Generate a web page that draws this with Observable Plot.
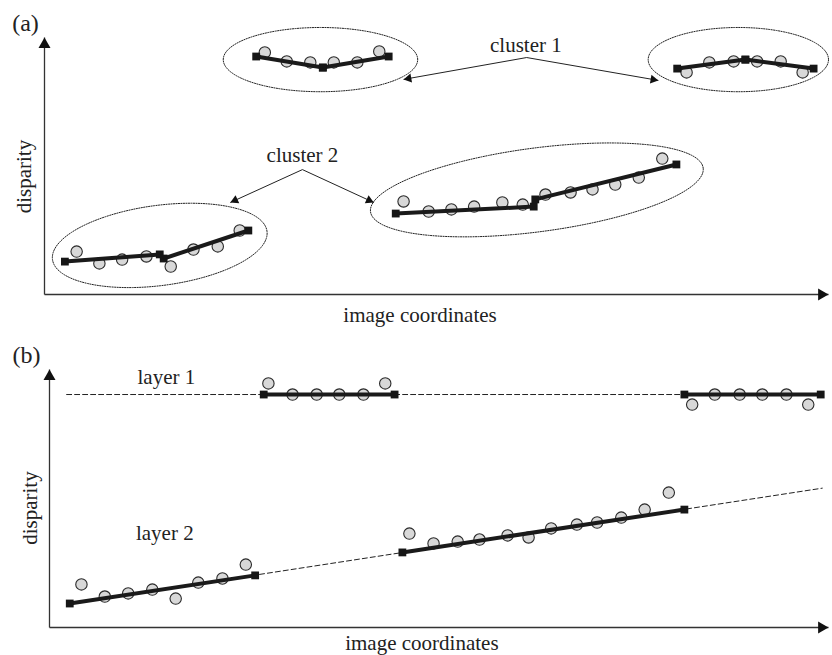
<!DOCTYPE html>
<html><head><meta charset="utf-8">
<script src="https://cdn.jsdelivr.net/npm/d3@7"></script>
<script src="https://cdn.jsdelivr.net/npm/@observablehq/plot@0.6"></script>
<style>
body{margin:0;background:#fff;}
#wrap{width:832px;}
svg{display:block;}
</style>
</head><body><div id="wrap"></div>
<script>
// ---------- Panel (a) data (x: image coordinate 0–100, y: disparity 0–10) ----------
const aC1LeftPts  = [[28.1,9.42],[30.9,9.07],[33.9,9.03],[36.9,9.03],[39.9,9.03],[42.7,9.46]];
const aC1LeftFit  = [[[27.0,9.26],[35.5,8.83]],[[35.5,8.83],[43.9,9.26]]];
const aC1RightPts = [[81.9,8.64],[84.8,9.03],[87.9,9.07],[90.9,9.07],[93.9,9.07],[96.7,8.64]];
const aC1RightFit = [[[80.7,8.79],[89.4,9.14]],[[89.4,9.14],[98.1,8.79]]];
const aC2LeftPts  = [[4.1,1.67],[7.0,1.21],[9.9,1.36],[13.0,1.48],[16.1,1.09],[19.0,1.75],[22.1,1.87],[24.9,2.49]];
const aC2LeftFit  = [[[2.6,1.28],[14.7,1.56]],[[15.2,1.40],[26.0,2.49]]];
const aC2RightPts = [[45.8,3.62],[49.0,3.23],[51.9,3.31],[54.8,3.42],[58.4,3.58],[61.0,3.50],[63.9,3.89],[67.1,3.97],[69.9,4.09],[72.8,4.28],[75.8,4.55],[78.8,5.29]];
const aC2RightFit = [[[44.8,3.15],[62.4,3.42]],[[62.6,3.70],[80.6,5.06]]];
// cluster outlines: centre, semi-axes (in x / y units), tilt in degrees
const aEllipses = [
  {cx:35.2, cy:9.14, a:12.4, b:1.25, angle:0},
  {cx:88.5, cy:9.14, a:11.5, b:1.25, angle:0},
  {cx:14.7, cy:1.91, a:13.8, b:1.56, angle:7.5},
  {cx:62.8, cy:4.07, a:21.4, b:1.63, angle:7.5}
];
const aArrows = [
  {from:[61.5,9.22], to:[45.8,8.37]},
  {from:[61.5,9.22], to:[78.3,8.33]},
  {from:[32.9,4.86], to:[23.7,3.58]},
  {from:[32.9,4.86], to:[42.0,3.58]}
];
const aLabels = [
  {x:61.4, y:9.69, text:"cluster 1"},
  {x:32.9, y:5.41, text:"cluster 2"}
];

// ---------- Panel (b) data ----------
const bLayer1Pts = [[28.1,9.46],[31.2,9.03],[34.3,9.03],[37.2,9.03],[40.3,9.03],[43.1,9.46],
                    [82.5,8.64],[85.4,9.03],[88.6,9.03],[91.5,9.03],[94.6,9.03],[97.4,8.64]];
const bLayer1Fit = [[[27.5,9.03],[44.3,9.03]],[[81.5,9.03],[99.0,9.03]]];
const bLayer1Model = [[2.2,9.03],[99.0,9.03]];
const bLayer2Pts = [[4.1,1.67],[7.1,1.20],[10.1,1.32],[13.2,1.47],[16.2,1.12],[19.1,1.74],[22.2,1.90],[25.2,2.44],
                    [46.2,3.64],[49.3,3.26],[52.4,3.33],[55.2,3.41],[58.8,3.57],[61.5,3.49],[64.4,3.84],[67.7,3.99],[70.3,4.07],[73.4,4.26],[76.4,4.57],[79.5,5.23]];
const bLayer2Fit = [[[2.6,0.93],[26.4,2.02]],[[45.3,2.91],[81.5,4.57]]];
const bLayer2Model = [[2.6,0.93],[99.2,5.40]];
const bLabels = [
  {x:15.0, y:9.69, text:"layer 1"},
  {x:14.8, y:3.64, text:"layer 2"}
];

const xLabel = "image coordinates";
const yLabel = "disparity";

// ---------- helpers ----------
const FONT = "'Liberation Serif', 'Times New Roman', serif";
const W = 832;

function ellipsePts(e, kx, ky) {
  const th = e.angle * Math.PI / 180, a = e.a * kx, b = e.b * ky;
  return d3.range(144).map(i => {
    const t = 2 * Math.PI * i / 144;
    const px = a * Math.cos(t) * Math.cos(th) - b * Math.sin(t) * Math.sin(th);
    const py = a * Math.cos(t) * Math.sin(th) + b * Math.sin(t) * Math.cos(th);
    return {x: e.cx + px / kx, y: e.cy + py / ky};
  });
}
function head(from, to, kx, ky, s) {
  const dxp = (to[0] - from[0]) * kx, dyp = -(to[1] - from[1]) * ky;
  const L = Math.hypot(dxp, dyp), ux = dxp / L, uy = dyp / L;
  const back = s / Math.sqrt(3);
  return {x: to[0] - back * ux / kx, y: to[1] + back * uy / ky, rotate: Math.atan2(ux, -uy) * 180 / Math.PI};
}
const triR = s => Math.sqrt(Math.sqrt(3) / 4 * s * s / Math.PI);

function segMarks(segs, w) {
  const ends = segs.flat();
  return [
    Plot.link(segs, {x1: d => d[0][0], y1: d => d[0][1], x2: d => d[1][0], y2: d => d[1][1], stroke: "#1a1a1a", strokeWidth: w}),
    Plot.dot(ends, {x: d => d[0], y: d => d[1], symbol: "square", r: 4.4, fill: "#161616", stroke: "none"})
  ];
}
function circleMark(pts) {
  return Plot.dot(pts, {x: d => d[0], y: d => d[1], r: 5.7, fill: "#d8d8d8", stroke: "#2a2a2a", strokeWidth: 1.1});
}
function axesMarks(kx, ky) {
  const axes = [{from:[0,0], to:[100,0]}, {from:[0,0], to:[0,10]}];
  const heads = axes.map(d => head(d.from, d.to, kx, ky, 12));
  return [
    Plot.link(axes, {x1: d => d.from[0], y1: d => d.from[1], x2: d => d.to[0], y2: d => d.to[1], stroke: "#333", strokeWidth: 1.3}),
    Plot.dot(heads, {x: "x", y: "y", rotate: "rotate", symbol: "triangle", r: triR(12), fill: "#111", stroke: "none"})
  ];
}
function textMark(data, size) {
  return Plot.text(data, {x: "x", y: "y", text: "text", fontSize: size, fontFamily: FONT, fill: "#222", textAnchor: "middle", lineAnchor: "middle"});
}

// ---------- Panel (a) ----------
{
  const H = 332, m = {top: 37, right: 4, bottom: 38, left: 44};
  const kx = (W - m.left - m.right) / 100, ky = (H - m.top - m.bottom) / 10;
  const arrowHeads = aArrows.map(d => head(d.from, d.to, kx, ky, 9));
  const plot = Plot.plot({
    width: W, height: H, marginTop: m.top, marginRight: m.right, marginBottom: m.bottom, marginLeft: m.left,
    x: {domain: [0, 100]}, y: {domain: [0, 10]}, axis: null,
    style: {fontFamily: FONT, background: "#fff", overflow: "visible"},
    marks: [
      ...aEllipses.map(e => Plot.line(ellipsePts(e, kx, ky), {x: "x", y: "y", curve: "linear-closed", stroke: "#222", strokeWidth: 1, strokeDasharray: "1.2,1.3"})),
      Plot.link(aArrows, {x1: d => d.from[0], y1: d => d.from[1], x2: d => d.to[0], y2: d => d.to[1], stroke: "#222", strokeWidth: 1}),
      Plot.dot(arrowHeads, {x: "x", y: "y", rotate: "rotate", symbol: "triangle", r: triR(9), fill: "#111", stroke: "none"}),
      ...axesMarks(kx, ky),
      circleMark([...aC1LeftPts, ...aC1RightPts, ...aC2LeftPts, ...aC2RightPts]),
      ...segMarks([...aC1LeftFit, ...aC1RightFit, ...aC2LeftFit, ...aC2RightFit], 4),
      textMark(aLabels, 21),
      Plot.text([xLabel], {x: 47.9, y: -0.82, text: d => d, fontSize: 21, fontFamily: FONT, fill: "#222", textAnchor: "middle", lineAnchor: "middle"}),
      Plot.text([yLabel], {x: -2.64, y: 4.59, text: d => d, rotate: -90, fontSize: 21, fontFamily: FONT, fill: "#222", textAnchor: "middle", lineAnchor: "middle"}),
      Plot.text(["(a)"], {frameAnchor: "top-left", dx: -19, dy: -14, text: d => d, fontSize: 24, fontFamily: FONT, fill: "#222", textAnchor: "middle", lineAnchor: "middle"})
    ]
  });
  document.getElementById("wrap").appendChild(plot);
}

// ---------- Panel (b) ----------
{
  const H = 323, m = {top: 37, right: 4, bottom: 28, left: 49};
  const kx = (W - m.left - m.right) / 100, ky = (H - m.top - m.bottom) / 10;
  const plot = Plot.plot({
    width: W, height: H, marginTop: m.top, marginRight: m.right, marginBottom: m.bottom, marginLeft: m.left,
    x: {domain: [0, 100]}, y: {domain: [0, 10]}, axis: null,
    style: {fontFamily: FONT, background: "#fff", overflow: "visible"},
    marks: [
      Plot.line(bLayer1Model, {x: d => d[0], y: d => d[1], stroke: "#222", strokeWidth: 1, strokeDasharray: "5,3"}),
      Plot.line(bLayer2Model, {x: d => d[0], y: d => d[1], stroke: "#222", strokeWidth: 1, strokeDasharray: "5,3"}),
      ...axesMarks(kx, ky),
      circleMark([...bLayer1Pts, ...bLayer2Pts]),
      ...segMarks([...bLayer1Fit, ...bLayer2Fit], 4),
      textMark(bLabels, 21),
      Plot.text([xLabel], {x: 47.8, y: -0.62, text: d => d, fontSize: 21, fontFamily: FONT, fill: "#222", textAnchor: "middle", lineAnchor: "middle"}),
      Plot.text([yLabel], {x: -2.5, y: 4.63, text: d => d, rotate: -90, fontSize: 21, fontFamily: FONT, fill: "#222", textAnchor: "middle", lineAnchor: "middle"}),
      Plot.text(["(b)"], {frameAnchor: "top-left", dx: -23, dy: -14, text: d => d, fontSize: 24, fontFamily: FONT, fill: "#222", textAnchor: "middle", lineAnchor: "middle"})
    ]
  });
  document.getElementById("wrap").appendChild(plot);
}
</script>
</body></html>
